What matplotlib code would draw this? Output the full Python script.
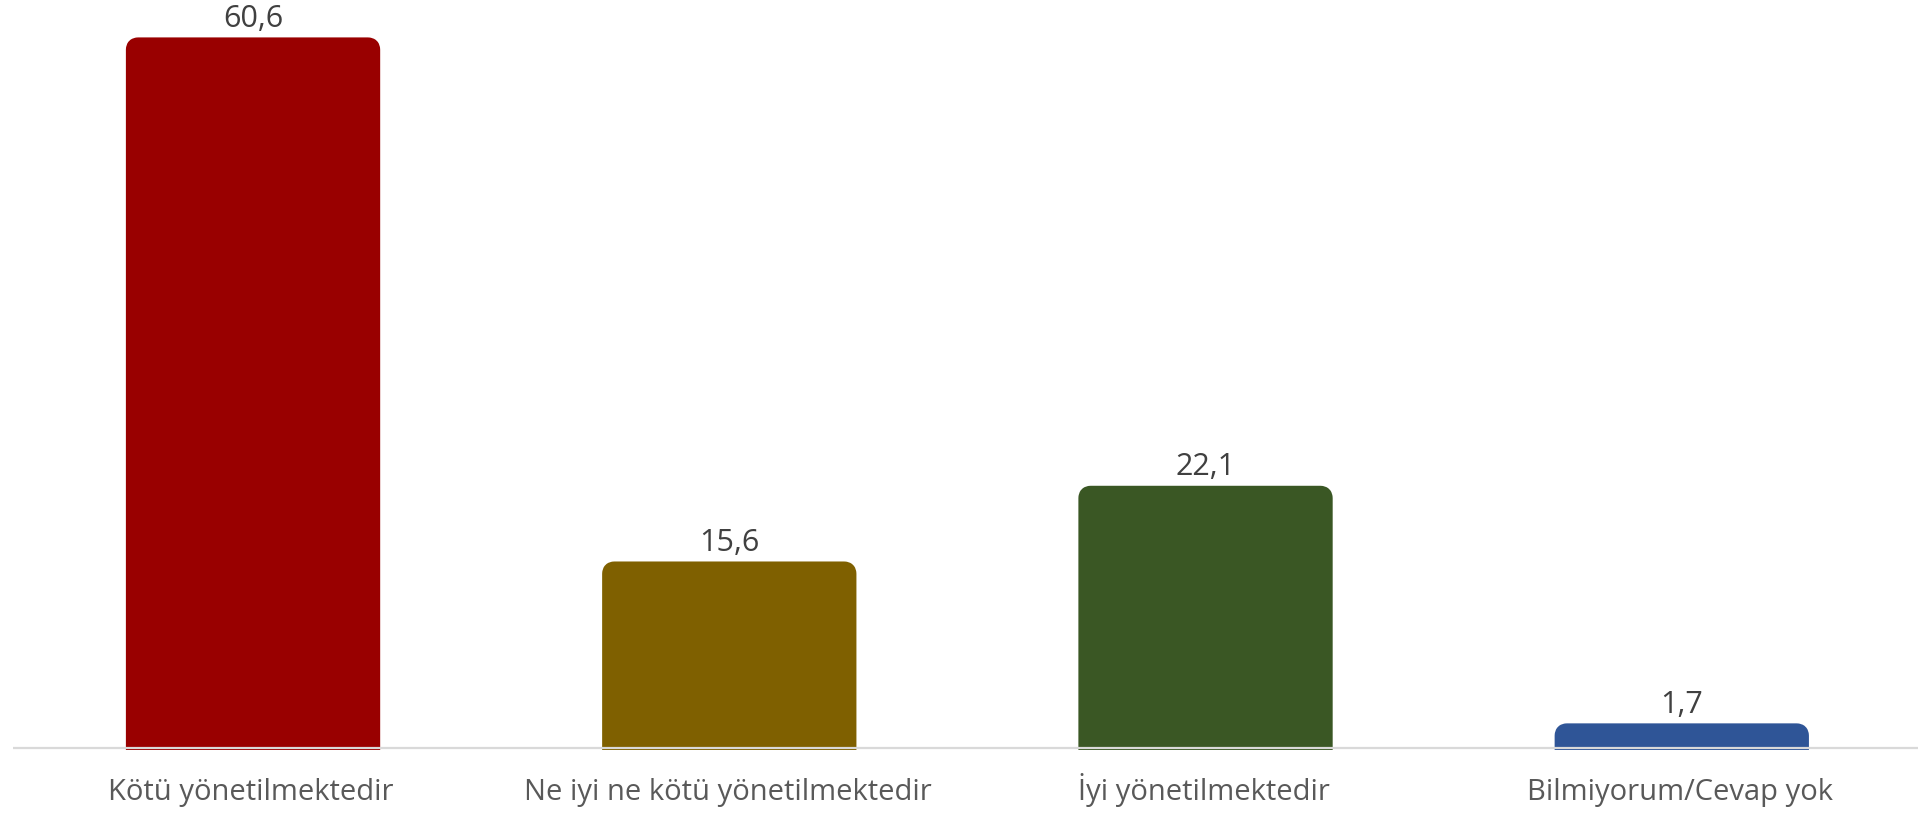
import matplotlib.pyplot as plt
from matplotlib.patches import FancyBboxPatch

# ----------------------------------------------------------------------
# Data
# ----------------------------------------------------------------------
categories = [
    "Kötü yönetilmektedir",
    "Ne iyi ne kötü yönetilmektedir",
    "İyi yönetilmektedir",
    "Bilmiyorum/Cevap yok",
]
values = [60.6, 15.6, 22.1, 1.7]
value_labels = ["60,6", "15,6", "22,1", "1,7"]
colors = ["#990000", "#7F6000", "#3A5724", "#2F5597"]

plt.rcParams["font.family"] = ["Open Sans", "DejaVu Sans"]

fig = plt.figure(figsize=(19.21, 8.16), dpi=100)
ax = fig.add_axes([13 / 1921, 66 / 816, 1905 / 1921, 750 / 816])

x = list(range(len(categories)))
bars = ax.bar(x, values, width=0.515, color=colors)

ax.set_xlim(-0.5, len(categories) - 0.5)
ax.set_ylim(-0.2, 64.2)

# rounded top corners: replace plain rectangles by rounded boxes
# (box starts below zero so the lower corners are clipped away)
ax_w_px = 1905
ax_h_px = 750
x_per_px = (len(categories)) / ax_w_px
y_per_px = 64.4 / ax_h_px
radius_px = 8
for rect, col in zip(bars.patches, colors):
    bx, bw, bh = rect.get_x(), rect.get_width(), rect.get_height()
    rect.set_visible(False)
    box = FancyBboxPatch(
        (bx + 0.004, -1.0), bw, bh + 1.0,
        boxstyle=f"round,pad=0,rounding_size={radius_px * x_per_px}",
        mutation_aspect=y_per_px / x_per_px,
        facecolor=col, edgecolor=col, linewidth=6.5, joinstyle="round",
        clip_on=True, zorder=2,
    )
    ax.add_patch(box)

# value labels
for xi, v, lab in zip(x, values, value_labels):
    ax.annotate(lab, (xi + 0.004, v), xytext=(0, 11), textcoords="offset points",
                ha="center", va="baseline", fontsize=22, color="#404040")

# base line
ax.axhline(0, color="#D9D9D9", linewidth=1.6, zorder=3)

ax.set_xticks(x)
ax.set_xticklabels(categories, fontsize=21, color="#595959", va="baseline")
ax.tick_params(axis="x", length=0, pad=36)
ax.set_yticks([])
for s in ax.spines.values():
    s.set_visible(False)

fig.savefig("out.png", dpi=100)
